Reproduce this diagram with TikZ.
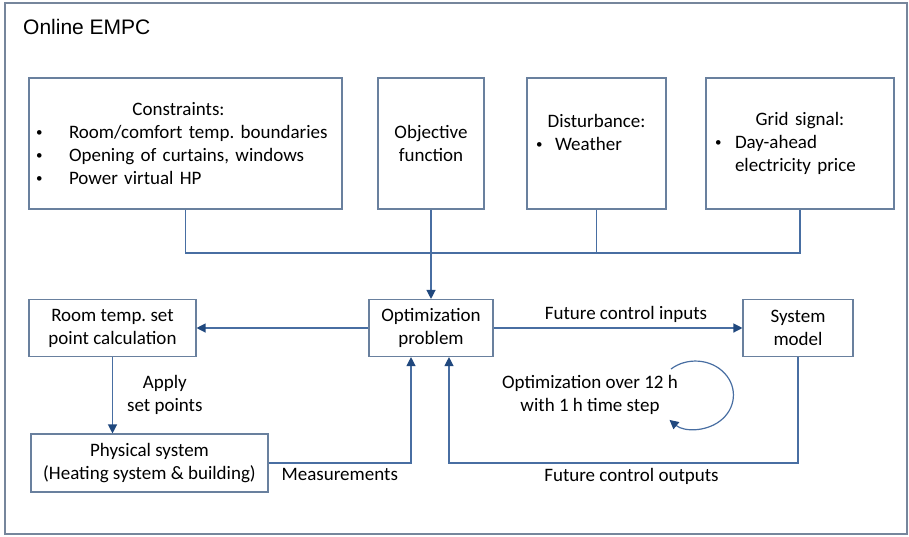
\documentclass[tikz,border=0pt]{standalone}
\usepackage{fontspec}
\setmainfont{Carlito}
\newfontfamily\titlefont{Liberation Sans}
\usetikzlibrary{arrows.meta,positioning}

\definecolor{boxline}{RGB}{105,128,158}
\definecolor{flowline}{RGB}{72,110,162}
\definecolor{tipblue}{RGB}{32,72,126}
\definecolor{frameline}{RGB}{118,134,156}

% small list bullet
\newcommand{\listdot}{\raisebox{1.8pt}{\fontsize{13}{13}\selectfont\textbullet}}

\begin{document}
\begin{tikzpicture}[
    x=1pt, y=-1pt,
    >={Triangle[length=9pt, width=9pt, color=tipblue]},
    font=\fontsize{19}{23}\selectfont\frenchspacing,
    blk/.style={draw=boxline, line width=1.1pt, inner sep=0pt, align=center},
    flow/.style={draw=flowline, line width=1.2pt},
    lbl/.style={inner sep=2pt, align=center},
  ]
    \useasboundingbox (0,0) rectangle (909,536);

    % --- outer frame + title ---
    \node[draw=frameline, line width=1.3pt, inner sep=0pt,
          minimum width=902pt, minimum height=531pt] (empc) at (456,268.5) {};
    \node[anchor=west, inner sep=0pt, font=\titlefont\fontsize{21}{25}\selectfont]
      (title) at (23,27) {Online EMPC};

    % --- inputs of the optimization (top row) ---
    \node[blk, align=left, text width=313pt, minimum height=131pt] (cons) at (185.5,143.5)
      {\makebox[\linewidth]{Constraints:\hspace*{14pt}}\\
       \hspace*{7pt}\makebox[33pt][l]{\listdot}Room/comfort temp. boundaries\\
       \hspace*{7pt}\makebox[33pt][l]{\listdot}Opening of curtains, windows\\
       \hspace*{7pt}\makebox[33pt][l]{\listdot}Power virtual HP};
    \node[blk, minimum width=106pt, minimum height=131pt] (obj) at (431,143.5)
      {Objective\\function};
    \node[blk, align=left, text width=139pt, minimum height=131pt] (dist) at (596.5,143.5)
      {\makebox[\linewidth]{Disturbance:}\\
       \hspace*{9pt}\makebox[19pt][l]{\listdot}Weather\\
       \mbox{}};
    \node[blk, align=left, text width=188pt, minimum height=131pt] (grid) at (800,143.5)
      {\makebox[\linewidth]{Grid signal:}\\
       \hspace*{9pt}\makebox[20pt][l]{\listdot}Day-ahead\\
       \hspace*{29pt}electricity price};

    % --- control loop (bottom rows) ---
    \node[blk, minimum width=167pt, minimum height=57pt] (room) at (112.5,328)
      {Room temp. set\\point calculation};
    \node[blk, minimum width=124pt, minimum height=57pt] (opt) at (431,328)
      {Optimization\\problem};
    \node[blk, minimum width=110pt, minimum height=57pt] (sys) at (798,328)
      {System\\model};
    \node[blk, minimum width=237pt, minimum height=58pt] (phys) at (149.5,463)
      {Physical system\\(Heating system \& building)};
    \node[lbl] (loop) at (590,395) {Optimization over 12 h\\with 1 h time step};

    % inputs collected on one bus
    \coordinate (bus) at (431,253);
    \draw[flow] (cons.south) |- (bus) -| (grid.south);
    \draw[flow] (dist.south) -- (dist.south |- bus);
    \draw[flow, ->] (obj.south) -- (opt.north);

    % loop connectors
    \draw[flow, ->] (opt.west) -- (room.east);
    \draw[flow, ->] (opt.east) -- node[lbl, above=3pt, xshift=8pt] {Future control inputs} (sys.west);
    \draw[flow, ->] (room.south) -- node[lbl, right=12pt] {Apply\\set points} (room.south |- phys.north);
    \draw[flow, ->] (phys.east) -| node[lbl, below=3pt, pos=0.25] {Measurements}
      ([xshift=-20pt]opt.south);
    \draw[flow, ->] (sys.south) |- node[lbl, below=3pt, pos=0.75, xshift=8pt] {Future control outputs}
      ([xshift=18pt]opt.south |- phys.east) -- ([xshift=18pt]opt.south);

    % horizon loop arrow
    \draw[flow, ->] ([shift={(81,-26)}]loop.center)
      arc[start angle=130, end angle=-133, x radius=38pt, y radius=34pt];
\end{tikzpicture}
\end{document}
